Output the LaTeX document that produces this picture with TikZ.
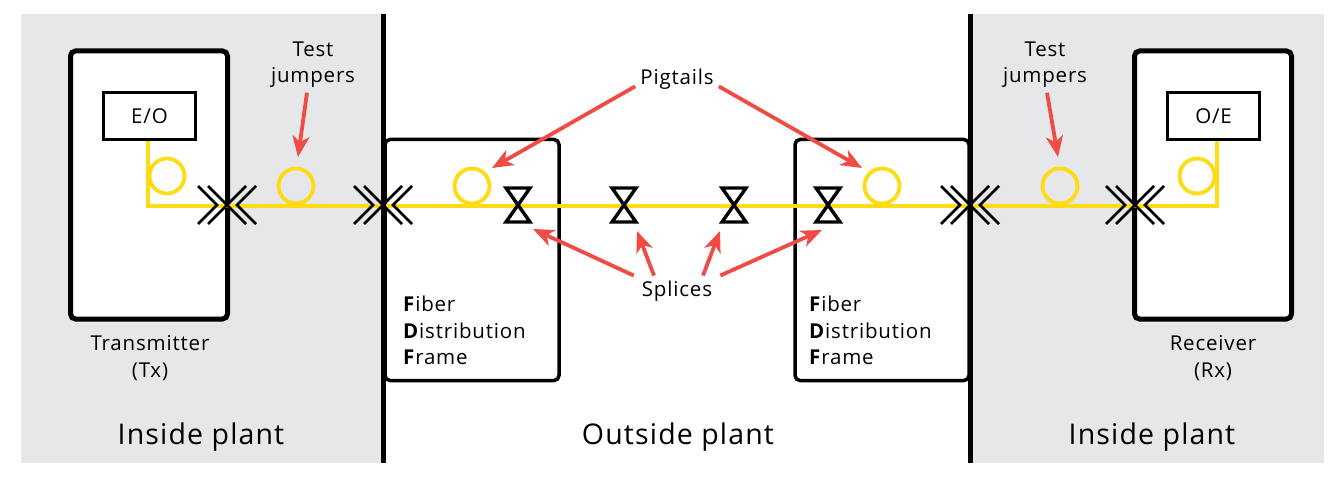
\documentclass[tikz,border=0pt]{standalone}
\usepackage{fontspec}
\setmainfont[LetterSpace=4]{Open Sans}
\usetikzlibrary{arrows.meta,calc,positioning}
\definecolor{plantgrey}{HTML}{E6E7E9}
\definecolor{fibrecol}{HTML}{FDDC14}
\definecolor{calloutcol}{HTML}{F04B45}
\tikzset {
  >=Stealth,
  every node/.style={font=\fontsize{20.5}{26.5}\selectfont,inner sep=0pt},
  unit/.style={draw,line width=5pt,rounded corners=5pt,fill=white,minimum width=157pt,minimum height=268pt},
  fdf/.style={draw,line width=3.5pt,rounded corners=5pt,fill=white,minimum width=174pt,minimum height=241pt},
  conv/.style={draw,line width=2.8pt,fill=white,minimum width=92pt,minimum height=47pt},
  fibre/.style={draw=fibrecol,line width=3.8pt},
  coil/.style={circle,draw=fibrecol,line width=3.8pt,minimum size=35pt},
  callout/.style={calloutcol,line width=3.8pt,-{Stealth[length=21pt,width=17pt,inset=6pt]}},
  label/.style={align=center,inner sep=5pt},
  plant/.style={font=\fontsize{28.5}{34}\selectfont},
  connector/.pic={
    \draw[line width=2.8pt] (-29,-19) -- (-10,0) -- (-29,19);
    \draw[line width=2.8pt] (-19,-19) -- (0,0) -- (-19,19);
    \draw[line width=2.8pt] (29,-19) -- (10,0) -- (29,19);
    \draw[line width=2.8pt] (19,-19) -- (0,0) -- (19,19);
  },
  splice/.pic={
    \draw[line width=3.4pt,line join=miter] (-12,-17) -- (12,-17) -- (-12,17) -- (12,17) -- cycle;
  },
}
\begin{document}
\begin{tikzpicture}[x=1pt,y=-1pt]
  \useasboundingbox (0,0) rectangle (1343,478);

  \fill[plantgrey] (21,14) rectangle (383,463);
  \fill[plantgrey] (970,14) rectangle (1324,463);

  \node[unit] (tx) at (149,185) {};
  \node[unit] (rx) at (1213,185) {};
  \node[fdf] (fdfl) at (472,260) {};
  \node[fdf] (fdfr) at (882,260) {};
  \node[conv] (eo) at (149.5,116) {E/O};
  \node[conv] (oe) at (1213.5,116) {O/E};

  \coordinate (cornerl) at (148,206);
  \coordinate (cornerr) at (1217,206);
  \coordinate (conna) at (227,205);
  \coordinate (connb) at (383,205);
  \coordinate (connc) at (970,205);
  \coordinate (connd) at (1135,205);

  \draw[fibre] (eo.south -| cornerl) -- (cornerl) -- (cornerr) -- (oe.south -| cornerr);
  \node[coil] (coila) at (167,176) {};
  \node[coil] (coilb) at (296,186) {};
  \node[coil] (coilc) at (472,186) {};
  \node[coil] (coild) at (882,186) {};
  \node[coil] (coile) at (1060,186) {};
  \node[coil] (coilf) at (1197,176) {};

  \draw[line width=5pt] (383,14) -- (383,463);
  \draw[line width=5pt] (970,14) -- (970,463);

  \foreach \name in {conna,connb,connc,connd}
    \pic at (\name) {connector};

  \coordinate (splicea) at (518,205);
  \coordinate (spliceb) at (624,205);
  \coordinate (splicec) at (734,205);
  \coordinate (spliced) at (828,205);
  \foreach \name in {splicea,spliceb,splicec,spliced}
    \pic at (\name) {splice};

  \node[label] (testl) at (313,64.5) {Test\\jumpers};
  \node[label] (testr) at (1045,64.5) {Test\\jumpers};
  \node[label] (pigtails) at (677,79) {Pigtails};
  \node[label,inner xsep=8pt] (splices) at (677,291) {Splices};

  \node[align=center] (txlabel) at (150,358) {Transmitter\\(Tx)};
  \node[align=center] (rxlabel) at (1213,358) {Receiver\\(Rx)};
  \node[align=left,anchor=west] (fdflabell) at (403,330.5) {\textbf{F}iber\\\textbf{D}istribution\\\textbf{F}rame};
  \node[align=left,anchor=west] (fdflabelr) at (809,330.5) {\textbf{F}iber\\\textbf{D}istribution\\\textbf{F}rame};

  \node[plant] (insidel) at (201,437) {Inside plant};
  \node[plant] (outside) at (678,437) {Outside plant};
  \node[plant] (insider) at (1152,437) {Inside plant};

  % arrows
  \coordinate (tipa) at (298,157);
  \coordinate (tipb) at (492,168);
  \coordinate (tipc) at (862,168);
  \coordinate (tipd) at (1058,157);
  \coordinate (tipe) at (533,229);
  \coordinate (tipf) at (637,231);
  \coordinate (tipg) at (720,231);
  \coordinate (tiph) at (822,230);
  \draw[callout] (testl.south -| 307,0) -- (tipa);
  \draw[callout] (testr.south -| 1047,0) -- (tipd);
  \draw[callout] (pigtails.190) -- (tipb);
  \draw[callout] (pigtails.-10) -- (tipc);
  \draw[callout] (splices.north west) -- (tipe);
  \draw[callout] (splices.north -| 654,0) -- (tipf);
  \draw[callout] (splices.north -| 703,0) -- (tipg);
  \draw[callout] (splices.north east) -- (tiph);
\end{tikzpicture}
\end{document}
